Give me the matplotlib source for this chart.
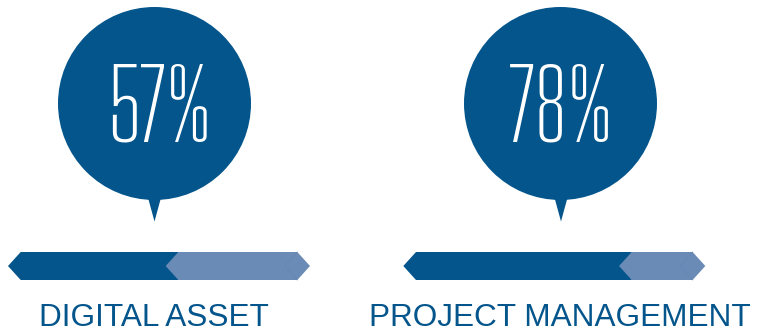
import matplotlib
matplotlib.use("Agg")
import matplotlib.pyplot as plt
from matplotlib.patches import Circle, Polygon

# Skill scores shown in the bubbles and progress bars
labels = ["DIGITAL ASSET", "PROJECT MANAGEMENT"]
values = [57, 78]

DARK = "#03558B"
LIGHT = "#6A8BB6"
SEAM = "#6586B3"

W, H = 766, 334
fig = plt.figure(figsize=(W / 100, H / 100), dpi=100)
ax = fig.add_axes([0, 0, 1, 1])
ax.set_xlim(0, W)
ax.set_ylim(H, 0)
ax.set_aspect("equal")
ax.axis("off")

# per-panel layout (pixels)
bubble_cx = [154.5, 560.5]
bubble_cy = 103.5
bubble_r = 96.5
tip_x = [154.5, 561.0]
tip_y = 221.5
text_cx = [159.5, 561.5]
text_base = 142.0
bar_left = [8.0, 403.3]
bar_len = 302.0          # tip to tip
bar_tip = 12.7           # horizontal depth of the arrow points
bar_top, bar_bot = 252.0, 280.0
label_y = 326.0

bar_mid = (bar_top + bar_bot) / 2

for cx, tx, txc, x0, val, lab in zip(bubble_cx, tip_x, text_cx, bar_left, values, labels):
    # speech bubble
    ax.add_patch(Circle((cx, bubble_cy), bubble_r, facecolor=DARK, edgecolor="none"))
    ax.add_patch(Polygon([(tx - 7.5, bubble_cy + bubble_r - 6), (tx + 7.5, bubble_cy + bubble_r - 6),
                          (tx, tip_y)], closed=True, facecolor=DARK, edgecolor="none"))
    ax.text(txc, text_base, f"{val}%", color="white", ha="center", va="baseline",
            fontsize=70, family="Big Shoulders Text", fontweight=600)

    # progress bar: dark filled part, light remainder with a notch pointing back
    x_tipL = x0
    x_bodyL = x0 + bar_tip
    x_bodyR = x0 + bar_len - bar_tip
    x_tipR = x0 + bar_len
    xv = x_bodyL + val / 100 * (x_bodyR - x_bodyL)
    ax.add_patch(Polygon([(x_tipL, bar_mid), (x_bodyL, bar_top), (xv, bar_top), (xv, bar_bot),
                          (x_bodyL, bar_bot)], closed=True, facecolor=DARK, edgecolor="none"))
    ax.add_patch(Polygon([(xv - bar_tip, bar_mid), (xv, bar_top), (x_bodyR, bar_top), (x_tipR, bar_mid),
                          (x_bodyR, bar_bot), (xv, bar_bot)], closed=True, facecolor=LIGHT, edgecolor="none"))
    ax.plot([x_bodyR, x_bodyR - bar_tip, x_bodyR], [bar_top, bar_mid, bar_bot], color=SEAM, lw=0.5)

    ax.text(cx - 1, label_y, lab, color=DARK, ha="center", va="baseline", fontsize=22.7,
            family="Liberation Sans")

fig.savefig("out.png", dpi=100)
